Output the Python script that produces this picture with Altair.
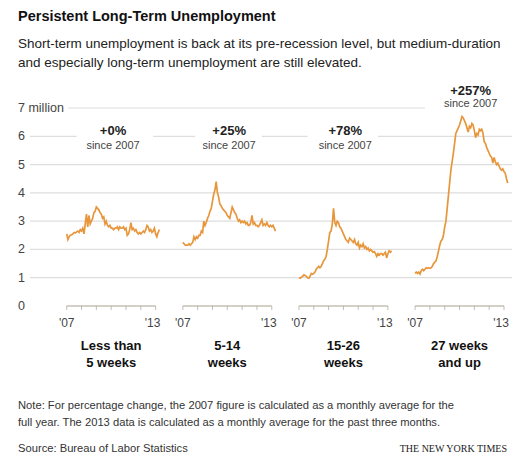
import altair as alt
import pandas as pd

# ---------------- data ----------------
panel_names = ["Less than\n5 weeks", "5-14\nweeks", "15-26\nweeks", "27 weeks\nand up"]
pct_labels = ["+0%", "+25%", "+78%", "+257%"]
since_label = "since 2007"
y_ticks = [0, 1, 2, 3, 4, 5, 6, 7]
x_tick_years = [2007, 2008, 2009, 2010, 2011, 2012, 2013]
x_tick_labels = {2007: "'07", 2013: "'13"}

# monthly values (millions), Jan 2007 - Apr 2013
less_than_5 = [2.55, 2.35, 2.45, 2.5, 2.52, 2.55, 2.6, 2.58, 2.62, 2.65, 2.6, 2.7,
               2.65, 2.75, 2.55, 2.9, 3.25, 2.8, 3.2, 2.9, 3.0, 3.1, 3.3, 3.35,
               3.5, 3.45, 3.4, 3.3, 3.25, 3.1, 3.15, 2.9, 3.0, 2.85, 2.8, 2.85,
               2.75, 2.75, 2.7, 2.75, 2.75, 2.8, 2.7, 2.8, 2.75, 2.75, 2.8, 2.7,
               2.75, 2.5, 2.55, 2.7, 2.95, 2.7, 2.75, 2.65, 2.7, 2.6, 2.55, 2.6,
               2.55, 2.6, 2.65, 2.6, 2.7, 2.85, 2.8, 2.65, 2.7, 2.6, 2.65, 2.75,
               2.55, 2.45, 2.6, 2.7]
weeks_5_14 = [2.25, 2.2, 2.15, 2.15, 2.15, 2.2, 2.15, 2.2, 2.25, 2.45, 2.35, 2.45,
              2.4, 2.5, 2.5, 2.65, 2.6, 3.0, 2.85, 2.95, 3.1, 3.2, 3.35, 3.45,
              3.7, 3.95, 4.1, 4.4, 4.0, 3.85, 3.6, 3.55, 3.45, 3.4, 3.35, 3.3,
              3.2, 3.15, 3.1, 3.3, 3.5, 3.4, 3.3, 3.25, 3.1, 3.0, 3.05, 2.95,
              3.0, 2.95, 3.0, 2.9, 2.95, 2.85, 2.85, 2.95, 3.2, 2.9, 2.95, 2.85,
              2.85, 2.8, 2.85, 2.95, 3.05, 2.85, 2.9, 2.85, 2.95, 2.85, 2.8, 2.85,
              2.8, 2.85, 2.75, 2.65]
weeks_15_26 = [1.0, 0.98, 1.02, 1.05, 1.1, 1.08, 1.05, 1.0, 0.98, 1.05, 1.15, 1.12,
               1.15, 1.2, 1.3, 1.35, 1.4, 1.35, 1.4, 1.5, 1.6, 1.65, 1.75, 2.0,
               2.3, 2.6, 2.65, 2.9, 3.45, 2.95, 2.85, 3.0, 2.95, 2.8, 2.75, 2.65,
               2.55, 2.45, 2.35, 2.3, 2.25, 2.4, 2.35, 2.3, 2.25, 2.35, 2.2, 2.15,
               2.25, 2.05, 2.15, 2.1, 2.2, 2.05, 2.1, 2.0, 2.05, 1.95, 2.0, 1.95,
               1.9, 1.92, 1.85, 1.75, 1.85, 1.8, 1.85, 1.85, 1.8, 1.85, 1.9, 1.7,
               1.85, 1.95, 1.9, 1.95]
weeks_27_up = [1.15, 1.2, 1.15, 1.2, 1.13, 1.25, 1.3, 1.25, 1.3, 1.35, 1.33, 1.35,
               1.33, 1.35, 1.4, 1.5, 1.55, 1.6, 1.75, 1.95, 2.15, 2.3, 2.35, 2.5,
               2.8, 3.0, 3.45, 3.9, 4.35, 4.8, 5.1, 5.4, 5.75, 6.1, 6.2, 6.3,
               6.4, 6.55, 6.7, 6.65, 6.55, 6.45, 6.3, 6.15, 6.35, 6.3, 6.45, 6.4,
               6.2, 5.95, 6.1, 6.05, 6.25, 6.2, 6.25, 6.1, 5.8, 5.75, 5.6, 5.5,
               5.4, 5.3, 5.25, 5.05, 5.25, 5.1, 5.0, 5.05, 4.95, 4.85, 4.8, 4.85,
               4.75, 4.7, 4.5, 4.35]
series = [less_than_5, weeks_5_14, weeks_15_26, weeks_27_up]

note_text = ("Note: For percentage change, the 2007 figure is calculated as a monthly average for the\n"
             "full year. The 2013 data is calculated as a monthly average for the past three months.")
source_text = "Source: Bureau of Labor Statistics"
credit_text = "THE NEW YORK TIMES"
title_text = "Persistent Long-Term Unemployment"
subtitle_text = ("Short-term unemployment is back at its pre-recession level, but medium-duration\n"
                 "and especially long-term unemployment are still elevated.")

# ---------------- layout (not data) ----------------
FONT = "Liberation Sans"
W, H = 509, 455
PANEL_STEP = 94          # months between panel starts on the shared x scale
SPAN = 72                # 2007..2013 in months
LINE_COLOR = "#e8963c"
GRID_COLOR = "#dedede"
AXIS_COLOR = "#a8a291"

x_scale = alt.Scale(domain=[0, 3 * PANEL_STEP + SPAN], range=[58.7, 496], nice=False, zero=False)
y_scale = alt.Scale(domain=[0, 7], range=[298, 100], nice=False, zero=False)

# ---------------- frames ----------------
rows = []
for i, vals in enumerate(series):
    for m, v in enumerate(vals):
        rows.append({"panel": i, "pos": i * PANEL_STEP + m, "value": v})
line_df = pd.DataFrame(rows)

grid_df = pd.DataFrame({
    "value": [t for t in y_ticks if t > 0],
    "x0": [-29.7 if t < 7 else 1.3 for t in y_ticks if t > 0],
    "x1": [360.5 for t in y_ticks if t > 0],
})
ylab_df = pd.DataFrame({
    "value": y_ticks,
    "label": [("%d million" % t) if t == 7 else str(t) for t in y_ticks],
})

# annotation anchors (month offset within panel, y value)
ann_x = [37.5, 37.5, 37.5, 45]
ann_pct_y = [6.19, 6.19, 6.19, 7.6]
ann_since_y = [5.66, 5.66, 5.66, 7.14]
gap_x0 = [8, 10, 7, 8]
gap_x1 = [70, 64, 64, 80]
gap_level = [6, 6, 6, 7]

ann_df = pd.DataFrame({
    "pos": [i * PANEL_STEP + ann_x[i] for i in range(4)],
    "pct": pct_labels,
    "pct_y": ann_pct_y,
    "since": [since_label] * 4,
    "since_y": ann_since_y,
})
gap_df = pd.DataFrame({
    "x0": [i * PANEL_STEP + gap_x0[i] for i in range(4)],
    "x1": [i * PANEL_STEP + gap_x1[i] for i in range(4)],
    "y0": [g - 0.15 for g in gap_level],
    "y1": [g + 0.15 for g in gap_level],
})
axis_df = pd.DataFrame({
    "x0": [i * PANEL_STEP for i in range(4)],
    "x1": [i * PANEL_STEP + SPAN for i in range(4)],
    "zero": [0] * 4,
})
tick_df = pd.DataFrame([
    {"pos": i * PANEL_STEP + (yr - 2007) * 12, "zero": 0}
    for i in range(4) for yr in x_tick_years
])
tlab_df = pd.DataFrame([
    {"pos": i * PANEL_STEP + (yr - 2007) * 12, "label": lab, "first": yr == 2007}
    for i in range(4) for yr, lab in x_tick_labels.items()
])
cat_df = pd.DataFrame({
    "pos": [i * PANEL_STEP + SPAN / 2 for i in range(4)],
    "name": panel_names,
})

X = lambda f: alt.X(f, type="quantitative", scale=x_scale, axis=None)
Y = lambda f: alt.Y(f, type="quantitative", scale=y_scale, axis=None)

grid = alt.Chart(grid_df).mark_rule(color=GRID_COLOR, strokeWidth=1.2).encode(
    x=X("x0"), x2="x1", y=Y("value"))
gaps = alt.Chart(gap_df).mark_rect(color="white").encode(
    x=X("x0"), x2="x1", y=Y("y0"), y2="y1")
ylabels = alt.Chart(ylab_df).mark_text(
    align="left", baseline="middle", font=FONT, fontSize=12.5, color="#444").encode(
    x=alt.value(10), y=Y("value"), text="label:N")
axes = alt.Chart(axis_df).mark_rule(color=AXIS_COLOR, strokeWidth=1.2).encode(
    x=X("x0"), x2="x1", y=Y("zero"))
ticks = alt.Chart(tick_df).mark_tick(
    orient="vertical", size=4, thickness=1, yOffset=2, color=AXIS_COLOR).encode(
    x=X("pos"), y=Y("zero"))
tlabels_first = alt.Chart(tlab_df[tlab_df["first"]]).mark_text(
    align="center", baseline="middle", font=FONT, fontSize=12, color="#444").encode(
    x=X("pos"), y=alt.value(315), text="label:N")
tlabels_last = alt.Chart(tlab_df[~tlab_df["first"]]).mark_text(
    align="center", baseline="middle", dx=-3, font=FONT, fontSize=12, color="#444").encode(
    x=X("pos"), y=alt.value(315), text="label:N")
cats = alt.Chart(cat_df).mark_text(
    align="center", baseline="alphabetic", lineBreak="\n", lineHeight=17,
    font=FONT, fontSize=13, fontWeight="bold", color="#111").encode(
    x=X("pos"), y=alt.value(342), text="name:N")
lines = alt.Chart(line_df).mark_line(color=LINE_COLOR, strokeWidth=1.7).encode(
    x=X("pos"), y=Y("value"), detail="panel:N")
pct = alt.Chart(ann_df).mark_text(
    align="center", baseline="middle", font=FONT, fontSize=13, fontWeight="bold", color="#222").encode(
    x=X("pos"), y=Y("pct_y"), text="pct:N")
since = alt.Chart(ann_df).mark_text(
    align="center", baseline="middle", font=FONT, fontSize=11, color="#444").encode(
    x=X("pos"), y=Y("since_y"), text="since:N")

def free_text(txt, x, y, **kw):
    return alt.Chart(pd.DataFrame({"t": [txt]})).mark_text(
        baseline="alphabetic", lineBreak="\n", font=FONT, **kw).encode(
        x=alt.value(x), y=alt.value(y), text="t:N")

title = free_text(title_text, 10, 12.5, align="left", fontSize=14.5, fontWeight="bold", color="#111")
subtitle = free_text(subtitle_text, 10, 39.5, align="left", fontSize=13.5, lineHeight=19, color="#222")
note = free_text(note_text, 10, 401, align="left", fontSize=11.2, lineHeight=17, color="#333")
source = free_text(source_text, 10, 444, align="left", fontSize=11.2, color="#333")
credit = alt.Chart(pd.DataFrame({"t": [credit_text]})).mark_text(
    baseline="alphabetic", align="right", font="Liberation Serif", fontSize=10, color="#222").encode(
    x=alt.value(499), y=alt.value(444), text="t:N")

chart = alt.layer(
    grid, gaps, ylabels, axes, ticks, tlabels_first, tlabels_last, cats, lines, pct, since,
    title, subtitle, note, source, credit
).properties(
    width=W, height=H, padding=0, autosize=alt.AutoSizeParams(type="none")
).configure_view(stroke=None)

chart.save("out.html", embed_options={"renderer": "svg", "actions": False})
